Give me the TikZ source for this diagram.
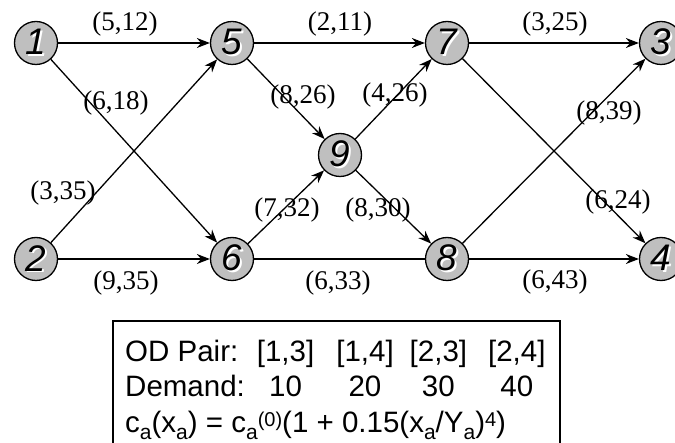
\documentclass[tikz,border=0pt]{standalone}
\usepackage{fontspec}
\setmainfont{Liberation Serif}
\setsansfont{Liberation Sans}
\usetikzlibrary{arrows.meta}
\tikzset{
  city/.style = {circle, draw = black, fill = gray!50, line width = 1.3pt, minimum size = 43pt, inner sep = 0pt, font = \sffamily\itshape\fontsize{37}{37}\selectfont},
  cost/.style = {inner sep = 0pt, font = \fontsize{27}{27}\selectfont},
  road/.style = {line width = 1.3pt},
  link/.style = {road, -{Stealth[length = 13pt, width = 10pt]}}
}
\newcommand{\shdw}[1]{\makebox[0pt][l]{\hspace{1.5pt}\raisebox{-1.5pt}{\color{white}#1}}#1}
\newcommand{\sba}[1]{\raisebox{-7pt}{\fontsize{21}{21}\selectfont #1}}
\newcommand{\spa}[1]{\raisebox{6pt}{\fontsize{20}{20}\selectfont #1}}
\begin{document}
\begin{tikzpicture}[x = 1pt, y = -1pt]
\useasboundingbox (0,0) rectangle (675,443);
\clip (0,0) rectangle (675,443);
\node[city] (n1) at (36,43) {\shdw{1}};
\node[city] (n5) at (232,43) {\shdw{5}};
\node[city] (n7) at (447,43) {\shdw{7}};
\node[city] (n3) at (661,43) {\shdw{3}};
\node[city] (n9) at (340,155) {\shdw{9}};
\node[city] (n2) at (36,259) {\shdw{2}};
\node[city] (n6) at (232,259) {\shdw{6}};
\node[city] (n8) at (447,259) {\shdw{8}};
\node[city] (n4) at (661,259) {\shdw{4}};
\draw[link] (n1) -- (n5);
\draw[link] (n1) -- (n6);
\draw[link] (n2) -- (n5);
\draw[link] (n2) -- (n6);
\draw[link] (n5) -- (n7);
\draw[link] (n5) -- (n9);
\draw[link] (n6) -- (n9);
\draw[road] (n6) -- (n8);
\draw[link] (n9) -- (n7);
\draw[link] (n9) -- (n8);
\draw[link] (n7) -- (n3);
\draw[link] (n7) -- (n4);
\draw[link] (n8) -- (n3);
\draw[link] (n8) -- (n4);
\node[cost] (c15) at (125,24) {(5,12)};
\node[cost] (c57) at (340,24) {(2,11)};
\node[cost] (c73) at (555,24) {(3,25)};
\node[cost] (c16) at (116,103) {(6,18)};
\node[cost] (c59) at (303,97) {(8,26)};
\node[cost] (c97) at (395,95) {(4,26)};
\node[cost] (c83) at (609,113) {(8,39)};
\node[cost] (c25) at (63,193) {(3,35)};
\node[cost] (c69) at (287,210) {(7,32)};
\node[cost] (c98) at (378,210) {(8,30)};
\node[cost] (c74) at (618,202) {(6,24)};
\node[cost] (c26) at (126,283) {(9,35)};
\node[cost] (c68) at (338,283) {(6,33)};
\node[cost] (c84) at (555,282) {(6,43)};
\draw[line width = 1.2pt] (113,321) rectangle (560,460);
\node[anchor = base west, inner sep = 0pt, font = \sffamily\fontsize{29.5}{35}\selectfont] (od) at (125,362) {%
\begin{tabular}[t]{@{}l@{\hspace{12pt}}c@{\hspace{22pt}}c@{\hspace{16pt}}c@{\hspace{21pt}}c@{}}
OD Pair: & [1,3] & [1,4] & [2,3] & [2,4]\\
Demand: & 10 & 20 & 30 & 40\\[1pt]
\multicolumn{5}{@{}l}{c\sba{a}(x\sba{a}) = c\sba{a}\spa{(0)}(1 + 0.15(x\sba{a}/Y\sba{a})\spa{4})}
\end{tabular}};
\end{tikzpicture}
\end{document}
